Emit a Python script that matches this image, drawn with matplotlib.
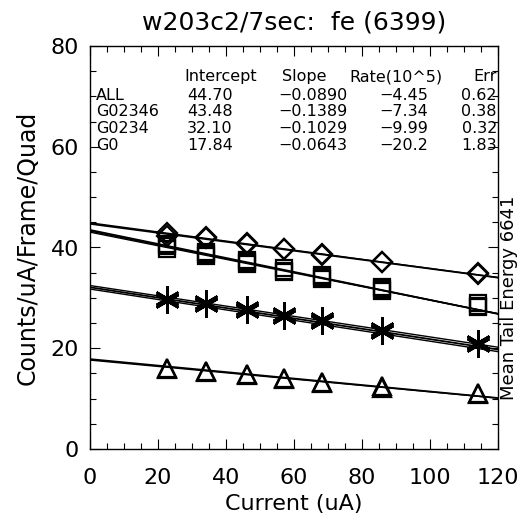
import matplotlib.pyplot as plt
import numpy as np

# fit table (as printed on the plot)
names = ["ALL", "G02346", "G0234", "G0"]
intercepts = [44.70, 43.48, 32.10, 17.84]
slopes = [-0.0890, -0.1389, -0.1029, -0.0643]
rates = [-4.45, -7.34, -9.99, -20.2]
errs = [0.62, 0.38, 0.32, 1.83]

# extra fit lines drawn next to the main ones
extra_int = [[44.90], [43.25, 43.05], [32.45, 31.75], [17.65]]
extra_slope = [[-0.0905], [-0.1365, -0.1350], [-0.1020, -0.1035], [-0.0630]]

current = [22.7, 34.1, 46.1, 57.1, 68.1, 85.8, 114.2]

# measured points, several overplotted sets per group
all_y = [[42.8, 42.0, 40.8, 39.8, 38.7, 37.2, 34.9],
         [42.3, 41.8, 40.7, 39.7, 38.6, 37.1, 34.8]]
g02346_y = [[40.7, 39.1, 37.6, 35.9, 34.5, 32.2, 28.9],
            [40.2, 38.7, 37.1, 35.4, 34.1, 31.7, 28.4],
            [39.7, 38.4, 36.8, 35.1, 33.8, 31.3, 28.1]]
g0234_y = [[29.9, 29.1, 27.9, 26.8, 25.8, 23.8, 21.3],
           [29.6, 28.8, 27.6, 26.5, 25.5, 23.5, 21.0],
           [29.3, 28.5, 27.3, 26.2, 25.2, 23.2, 20.7]]
g0_y = [[16.1, 15.4, 14.8, 14.1, 13.3, 12.5, 11.1],
        [15.8, 15.2, 14.6, 13.9, 13.1, 12.2, 10.9]]

plt.rcParams['font.family'] = 'DejaVu Sans'

fig = plt.figure(figsize=(5.23, 5.27), dpi=100)
ax = fig.add_axes([90/523, 1-449/527, 408/523, 403/527])

xx = np.array([0, 120])
for b, m in zip(intercepts, slopes):
    ax.plot(xx, b + m*xx, color='black', lw=1.3)
for bs, ms in zip(extra_int, extra_slope):
    for b, m in zip(bs, ms):
        ax.plot(xx, b + m*xx, color='black', lw=1.0)

for ys in all_y:
    ax.plot(current, ys, ls='none', marker='D', ms=10, mfc='none', mec='black', mew=1.6)
for ys in g02346_y:
    ax.plot(current, ys, ls='none', marker='s', ms=11, mfc='none', mec='black', mew=1.6)
for ys in g0234_y:
    ax.plot(current, ys, ls='none', marker=(6, 2, 0), ms=18, mec='black', mew=1.6)
for ys in g0_y:
    ax.plot(current, ys, ls='none', marker='^', ms=13, mfc='none', mec='black', mew=1.6)

ax.set_xlim(0, 120)
ax.set_ylim(0, 80)
ax.set_xticks(np.arange(0, 121, 20))
ax.set_xticks(np.arange(0, 121, 5), minor=True)
ax.set_yticks(np.arange(0, 81, 20))
ax.set_yticks(np.arange(0, 81, 5), minor=True)
ax.tick_params(which='both', direction='in', top=True, right=True, width=0.8)
ax.tick_params(which='major', length=7, labelsize=16)
ax.tick_params(which='minor', length=4)
ax.tick_params(axis='x', pad=14)
ax.tick_params(axis='y', pad=8)
for s in ax.spines.values():
    s.set_linewidth(1.0)

ax.set_xlabel("Current (uA)", fontsize=16, labelpad=4)
ax.set_ylabel("Counts/uA/Frame/Quad", fontsize=17, labelpad=8)
ax.set_title("w203c2/7sec:  fe (6399)", fontsize=18, pad=12)

# table in the upper part
fs = 11.5
ax.text(49, 73.9, "Intercept", fontsize=fs, ha='right', va='center')
ax.text(63, 73.9, "Slope", fontsize=fs, ha='center', va='center')
ax.text(103.8, 73.9, "Rate(10^5)", fontsize=fs, ha='right', va='center')
ax.text(119.7, 73.9, "Err", fontsize=fs, ha='right', va='center')
row_y = [70.2, 66.9, 63.7, 60.2]
for i in range(len(names)):
    y = row_y[i]
    ax.text(1.8, y, names[i], fontsize=fs, ha='left', va='center')
    ax.text(42, y, "%.2f" % intercepts[i], fontsize=fs, ha='right', va='center')
    ax.text(75.6, y, ("%.4f" % slopes[i]).replace('-', '\u2212'), fontsize=fs, ha='right', va='center')
    ax.text(99.4, y, ("%.3g" % rates[i]).replace('-', '\u2212'), fontsize=fs, ha='right', va='center')
    ax.text(119.7, y, "%.2f" % errs[i], fontsize=fs, ha='right', va='center')

fig.text(509/523, 1-298/527, "Mean Tail Energy 6641", rotation=90,
         fontsize=13, ha='center', va='center')

fig.savefig("out.png", dpi=100)
